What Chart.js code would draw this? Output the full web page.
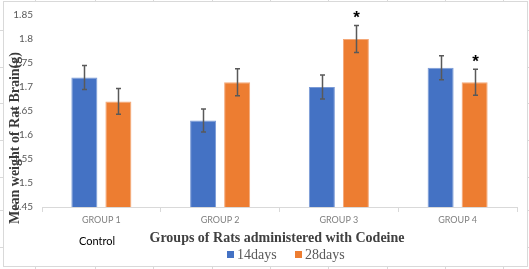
<!DOCTYPE html>
<html><head><meta charset="utf-8">
<script src="https://cdn.jsdelivr.net/npm/chart.js@4"></script>
<style>html,body{margin:0;padding:0;background:#fff;}#wrap{width:529px;height:269px;}</style>
</head><body><div id="wrap"><canvas id="c" width="529" height="269"></canvas></div>
<script>
const categories = ['GROUP 1', 'GROUP 2', 'GROUP 3', 'GROUP 4'];
const seriesNames = ['14days', '28days'];
const values14 = [1.72, 1.63, 1.70, 1.74];
const values28 = [1.67, 1.71, 1.80, 1.71];
const errors14 = [0.025, 0.024, 0.025, 0.025];
const errors28 = [0.027, 0.028, 0.028, 0.027];
const marks28 = ['', '', '*', '*'];
const yTicks = [1.45, 1.5, 1.55, 1.6, 1.65, 1.7, 1.75, 1.8, 1.85];
const yTitle = 'Mean weight of Rat Brain(g)';
const xTitle = 'Groups of Rats administered with Codeine';
const groupNote = 'Control';

const BLUE = '#4472C4', ORANGE = '#ED7D31';

const frame = {
  id: 'frame',
  beforeDraw(chart) {
    const ctx = chart.ctx;
    ctx.save();
    ctx.fillStyle = '#fff';
    ctx.fillRect(0, 0, chart.width, chart.height);
    ctx.strokeStyle = '#d9d9d9';
    ctx.lineWidth = 1;
    ctx.strokeRect(3.5, 1.5, 524, 265);
    ctx.beginPath();
    [30, 67, 103, 140, 177, 210, 247].forEach(y => { ctx.moveTo(0, y + 0.5); ctx.lineTo(3, y + 0.5); ctx.moveTo(528, y + 0.5); ctx.lineTo(529, y + 0.5); });
    [35, 95, 153, 212, 270, 328, 387, 445, 503].forEach(x => { ctx.moveTo(x + 0.5, 267); ctx.lineTo(x + 0.5, 269); ctx.moveTo(x + 0.5, 0); ctx.lineTo(x + 0.5, 1); });
    ctx.stroke();
    ctx.restore();
  },
  afterDatasetsDraw(chart) {
    const ctx = chart.ctx, y = chart.scales.y;
    const errs = [errors14, errors28];
    ctx.save();
    ctx.strokeStyle = '#595959';
    ctx.lineWidth = 1.5;
    chart.data.datasets.forEach((ds, di) => {
      const meta = chart.getDatasetMeta(di);
      meta.data.forEach((bar, i) => {
        const v = ds.data[i], e = errs[di][i];
        const yt = y.getPixelForValue(v + e), yb = y.getPixelForValue(v - e);
        const x = Math.round(bar.x) + 0.5;
        ctx.beginPath();
        ctx.moveTo(x, yt); ctx.lineTo(x, yb);
        ctx.moveTo(x - 2.5, yt); ctx.lineTo(x + 2.5, yt);
        ctx.moveTo(x - 2.5, yb); ctx.lineTo(x + 2.5, yb);
        ctx.stroke();
        if (di === 1 && marks28[i]) {
          ctx.fillStyle = '#000';
          ctx.font = 'bold 17px "Liberation Sans"';
          ctx.textAlign = 'center';
          ctx.textBaseline = 'middle';
          ctx.fillText(marks28[i], x, yt - 7);
        }
      });
    });
    ctx.restore();
  },
  afterDraw(chart) {
    const ctx = chart.ctx;
    ctx.save();
    // y title
    ctx.translate(15, 138);
    ctx.rotate(-Math.PI / 2);
    ctx.fillStyle = '#3a3a3a';
    ctx.font = 'bold 14px "Liberation Serif"';
    ctx.textAlign = 'center';
    ctx.textBaseline = 'middle';
    ctx.fillText(yTitle, 0, 0);
    ctx.restore();
    ctx.save();
    ctx.textBaseline = 'middle';
    ctx.textAlign = 'center';
    ctx.fillStyle = '#404040';
    ctx.font = 'bold 14px "Liberation Serif"';
    ctx.fillText(xTitle, 277, 238);
    ctx.fillStyle = '#000';
    ctx.font = '11px Lato';
    ctx.fillText(groupNote, 97, 241);
    // legend
    ctx.textAlign = 'left';
    ctx.font = '14px "Liberation Serif"';
    const items = [[BLUE, 227, seriesNames[0]], [ORANGE, 295, seriesNames[1]]];
    items.forEach(([c, x, t]) => {
      ctx.fillStyle = c;
      ctx.fillRect(x, 251, 7, 7);
      ctx.fillStyle = '#595959';
      ctx.fillText(t, x + 10, 255);
    });
    ctx.restore();
  }
};

new Chart(document.getElementById('c'), {
  type: 'bar',
  data: {
    labels: categories,
    datasets: [
      { label: seriesNames[0], data: values14, backgroundColor: BLUE, borderColor: '#7a9ad6', borderWidth: {top:1,left:1,right:1,bottom:0}, categoryPercentage: 0.573, barPercentage: 0.765 },
      { label: seriesNames[1], data: values28, backgroundColor: ORANGE, borderColor: '#f4a878', borderWidth: {top:1,left:1,right:1,bottom:0}, categoryPercentage: 0.573, barPercentage: 0.765 }
    ]
  },
  options: {
    responsive: false,
    animation: false,
    devicePixelRatio: 1,
    layout: { padding: { top: 12, right: 12, left: 0, bottom: 0 } },
    plugins: { legend: { display: false }, tooltip: { enabled: false } },
    scales: {
      x: {
        afterFit(s) { s.height = 62; },
        grid: { display: true, offset: true, drawOnChartArea: false, drawTicks: true, tickLength: 5, color: '#d9d9d9' },
        border: { display: true, color: '#d9d9d9' },
        ticks: { color: '#7f7f7f', font: { family: 'Lato', size: 9 }, padding: 3 }
      },
      y: {
        min: 1.45, max: 1.85,
        afterFit(s) { s.width = 42; },
        afterBuildTicks(s) { s.ticks = yTicks.map(v => ({ value: v })); },
        grid: { display: false, drawTicks: false },
        border: { display: false },
        ticks: { color: '#595959', font: { family: 'Lato', size: 10 }, padding: 9,
          callback: v => String(Math.round(v * 100) / 100) }
      }
    }
  },
  plugins: [frame]
});
</script>
</body></html>
